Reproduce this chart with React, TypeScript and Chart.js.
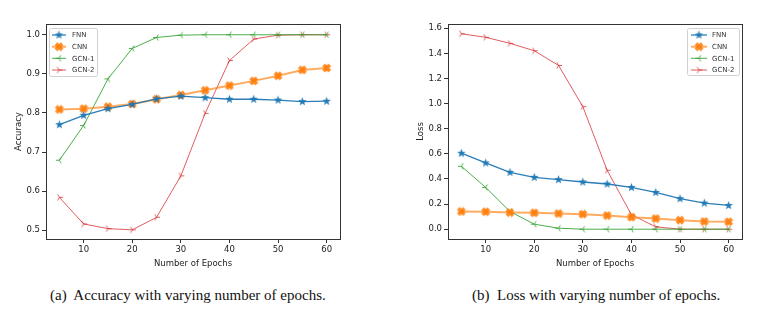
import React, { useEffect, useRef } from "react";
import { Chart, registerables } from "chart.js";

Chart.register(...registerables);

const epochs = [5, 10, 15, 20, 25, 30, 35, 40, 45, 50, 55, 60];
const xTicks = [10, 20, 30, 40, 50, 60];
const seriesNames = ["FNN", "CNN", "GCN-1", "GCN-2"];

const accFNN = [0.770, 0.794, 0.811, 0.822, 0.836, 0.843, 0.839, 0.835, 0.835, 0.833, 0.829, 0.830];
const accCNN = [0.809, 0.811, 0.816, 0.823, 0.835, 0.846, 0.858, 0.870, 0.882, 0.895, 0.910, 0.915];
const accGCN1 = [0.679, 0.768, 0.887, 0.965, 0.993, 0.999, 1.0, 1.0, 1.0, 1.0, 1.0, 1.0];
const accGCN2 = [0.584, 0.516, 0.504, 0.501, 0.533, 0.639, 0.799, 0.934, 0.989, 0.999, 1.0, 1.0];
const accTicks = [0.5, 0.6, 0.7, 0.8, 0.9, 1.0];

const lossFNN = [0.605, 0.528, 0.453, 0.413, 0.395, 0.376, 0.360, 0.333, 0.293, 0.243, 0.208, 0.189];
const lossCNN = [0.141, 0.139, 0.133, 0.131, 0.125, 0.120, 0.109, 0.096, 0.085, 0.072, 0.061, 0.059];
const lossGCN1 = [0.501, 0.333, 0.141, 0.040, 0.008, 0, 0, 0, 0, 0, 0, 0];
const lossGCN2 = [1.556, 1.528, 1.480, 1.421, 1.304, 0.976, 0.469, 0.115, 0.019, 0, 0, 0];
const lossTicks = [0.0, 0.2, 0.4, 0.6, 0.8, 1.0, 1.2, 1.4, 1.6];

const COLORS = {
  fnn: "rgba(31,119,180,0.95)",
  cnn: "rgba(255,127,14,0.65)",
  cnnMarker: "rgba(255,127,14,0.9)",
  gcn1: "rgba(44,160,44,0.85)",
  gcn2: "rgba(214,39,40,0.75)",
};

function makeCanvas(size: number) {
  const c = document.createElement("canvas");
  c.width = size;
  c.height = size;
  return c;
}

function makeStar(color: string, r: number) {
  const s = Math.ceil(r * 2 + 2);
  const c = makeCanvas(s);
  const ctx = c.getContext("2d")!;
  ctx.translate(s / 2, s / 2);
  ctx.beginPath();
  for (let i = 0; i < 10; i++) {
    const rad = i % 2 === 0 ? r : r * 0.42;
    const a = -Math.PI / 2 + (i * Math.PI) / 5;
    const px = rad * Math.cos(a);
    const py = rad * Math.sin(a);
    if (i === 0) ctx.moveTo(px, py);
    else ctx.lineTo(px, py);
  }
  ctx.closePath();
  ctx.fillStyle = color;
  ctx.fill();
  return c;
}

function makeX(color: string, r: number) {
  const s = Math.ceil(r * 2 + 2);
  const c = makeCanvas(s);
  const ctx = c.getContext("2d")!;
  ctx.translate(s / 2, s / 2);
  ctx.fillStyle = color;
  const t = r * 1.0;
  for (const ang of [Math.PI / 4, -Math.PI / 4]) {
    ctx.save();
    ctx.rotate(ang);
    ctx.fillRect(-r * 1.15, -t / 2, r * 2.3, t);
    ctx.restore();
  }
  return c;
}

function makeTri(color: string, r: number, dir: number) {
  const s = Math.ceil(r * 2 + 2);
  const c = makeCanvas(s);
  const ctx = c.getContext("2d")!;
  ctx.translate(s / 2, s / 2);
  ctx.strokeStyle = color;
  ctx.lineWidth = 1;
  ctx.beginPath();
  const angles = dir > 0 ? [0, (2 * Math.PI) / 3, (-2 * Math.PI) / 3] : [Math.PI, Math.PI / 3, -Math.PI / 3];
  for (const a of angles) {
    ctx.moveTo(0, 0);
    ctx.lineTo(r * Math.cos(a), r * Math.sin(a));
  }
  ctx.stroke();
  return c;
}

const FONT = "'DejaVu Sans', sans-serif";
const AXIS_COLOR = "#333";

type LegendBox = { x: number; y: number; w: number; h: number; lineX0: number; lineX1: number; textX: number; rows: number[] };

function buildChart(canvas: HTMLCanvasElement, series: number[][], yMin: number, yMax: number, yTicks: number[], yTitle: string, legend: LegendBox) {
  const markers = [
    makeStar(COLORS.fnn, 4.5),
    makeX(COLORS.cnnMarker, 3.8),
    makeTri(COLORS.gcn1, 3.5, -1),
    makeTri(COLORS.gcn2, 3.5, 1),
  ];
  const lineColors = [COLORS.fnn, COLORS.cnn, COLORS.gcn1, COLORS.gcn2];
  const widths = [1.3, 2, 1, 1];

  const framePlugin = {
    id: "frame",
    afterDraw(chart: any) {
      const { ctx, chartArea } = chart;
      ctx.save();
      ctx.strokeStyle = AXIS_COLOR;
      ctx.lineWidth = 1;
      ctx.strokeRect(Math.round(chartArea.left) + 0.5, Math.round(chartArea.top) + 0.5, Math.round(chartArea.right - chartArea.left), Math.round(chartArea.bottom - chartArea.top));
      ctx.restore();
    },
  };

  const legendPlugin = {
    id: "innerLegend",
    afterDraw(chart: any) {
      const ctx = chart.ctx as CanvasRenderingContext2D;
      ctx.save();
      const { x, y, w, h } = legend;
      const rr = 2;
      ctx.beginPath();
      ctx.moveTo(x + rr, y);
      ctx.lineTo(x + w - rr, y);
      ctx.quadraticCurveTo(x + w, y, x + w, y + rr);
      ctx.lineTo(x + w, y + h - rr);
      ctx.quadraticCurveTo(x + w, y + h, x + w - rr, y + h);
      ctx.lineTo(x + rr, y + h);
      ctx.quadraticCurveTo(x, y + h, x, y + h - rr);
      ctx.lineTo(x, y + rr);
      ctx.quadraticCurveTo(x, y, x + rr, y);
      ctx.closePath();
      ctx.fillStyle = "rgba(255,255,255,0.85)";
      ctx.fill();
      ctx.strokeStyle = "#d0d0d0";
      ctx.lineWidth = 1;
      ctx.stroke();
      ctx.font = `7px ${FONT}`;
      ctx.textBaseline = "middle";
      ctx.textAlign = "left";
      seriesNames.forEach((name, i) => {
        const ry = legend.rows[i];
        ctx.strokeStyle = lineColors[i];
        ctx.lineWidth = widths[i];
        ctx.beginPath();
        ctx.moveTo(legend.lineX0, ry);
        ctx.lineTo(legend.lineX1, ry);
        ctx.stroke();
        const m = markers[i];
        const cx = (legend.lineX0 + legend.lineX1) / 2;
        ctx.drawImage(m, cx - m.width / 2, ry - m.height / 2);
        ctx.fillStyle = "#333";
        ctx.fillText(name, legend.textX, ry + 0.5);
      });
      ctx.restore();
    },
  };

  return new Chart(canvas, {
    type: "line",
    data: {
      datasets: series.map((vals, i) => ({
        label: seriesNames[i],
        data: vals.map((v, j) => ({ x: epochs[j], y: v })),
        borderColor: lineColors[i],
        backgroundColor: lineColors[i],
        borderWidth: widths[i],
        pointStyle: markers[i] as any,
        pointRadius: 4,
        tension: 0,
        fill: false,
      })),
    },
    options: {
      animation: false,
      responsive: false,
      maintainAspectRatio: false,
      layout: { padding: { top: 24, right: 46, left: 0, bottom: 0 } },
      plugins: { legend: { display: false }, tooltip: { enabled: false } },
      scales: {
        x: {
          type: "linear",
          min: 2.25,
          max: 62.75,
          afterFit: (s: any) => { s.height = 31; },
          afterBuildTicks: (s: any) => { s.ticks = xTicks.map((v) => ({ value: v })); },
          grid: { drawOnChartArea: false, tickLength: 4, color: AXIS_COLOR, tickColor: AXIS_COLOR },
          border: { display: true, color: AXIS_COLOR },
          ticks: { font: { family: FONT, size: 8.5 }, color: "#222", padding: 2, maxRotation: 0, callback: (v: any) => String(v) },
          title: { display: true, text: "Number of Epochs", font: { family: FONT, size: 8.5 }, color: "#222", padding: { top: 0, bottom: 1 } },
        },
        y: {
          type: "linear",
          min: yMin,
          max: yMax,
          afterFit: (s: any) => { s.width = 46; },
          afterBuildTicks: (s: any) => { s.ticks = yTicks.map((v) => ({ value: v })); },
          grid: { drawOnChartArea: false, tickLength: 4, color: AXIS_COLOR, tickColor: AXIS_COLOR },
          border: { display: true, color: AXIS_COLOR },
          ticks: { font: { family: FONT, size: 8.5 }, color: "#222", padding: 2, callback: (v: any) => Number(v).toFixed(1) },
          title: { display: true, text: yTitle, font: { family: FONT, size: 8.5 }, color: "#222", padding: { top: 14, bottom: 0 } },
        },
      },
    },
    plugins: [framePlugin, legendPlugin],
  } as any);
}

function Panel(props: { left: number; series: number[][]; yMin: number; yMax: number; yTicks: number[]; yTitle: string; legend: LegendBox }) {
  const ref = useRef<HTMLCanvasElement>(null);
  useEffect(() => {
    const chart = buildChart(ref.current!, props.series, props.yMin, props.yMax, props.yTicks, props.yTitle, props.legend);
    return () => chart.destroy();
  }, []);
  return (
    <div style={{ position: "absolute", left: props.left, top: 0, width: 386, height: 270 }}>
      <canvas ref={ref} width={386} height={270} style={{ width: 386, height: 270, display: "block" }} />
    </div>
  );
}

const captionStyle: React.CSSProperties = {
  position: "absolute",
  top: 286,
  fontFamily: "'Liberation Serif', 'Times New Roman', serif",
  fontSize: 15,
  lineHeight: "18px",
  color: "#111",
  whiteSpace: "pre",
};

export default function App() {
  return (
    <div style={{ position: "fixed", left: 0, top: 0, width: 773, height: 311, background: "#fff", overflow: "hidden" }}>
      <Panel
        left={0}
        series={[accFNN, accCNN, accGCN1, accGCN2]}
        yMin={0.4775}
        yMax={1.0275}
        yTicks={accTicks}
        yTitle="Accuracy"
        legend={{ x: 49.5, y: 28.5, w: 48, h: 48, lineX0: 52, lineX1: 66, textX: 72, rows: [35, 46.7, 58.3, 70] }}
      />
      <Panel
        left={402}
        series={[lossFNN, lossCNN, lossGCN1, lossGCN2]}
        yMin={-0.078}
        yMax={1.634}
        yTicks={lossTicks}
        yTitle="Loss"
        legend={{ x: 285.5, y: 28.5, w: 52, h: 47, lineX0: 289, lineX1: 305, textX: 310, rows: [35, 46.7, 58.3, 70] }}
      />
      <div style={{ ...captionStyle, left: 50 }}>(a)  Accuracy with varying number of epochs.</div>
      <div style={{ ...captionStyle, left: 472 }}>(b)  Loss with varying number of epochs.</div>
    </div>
  );
}
